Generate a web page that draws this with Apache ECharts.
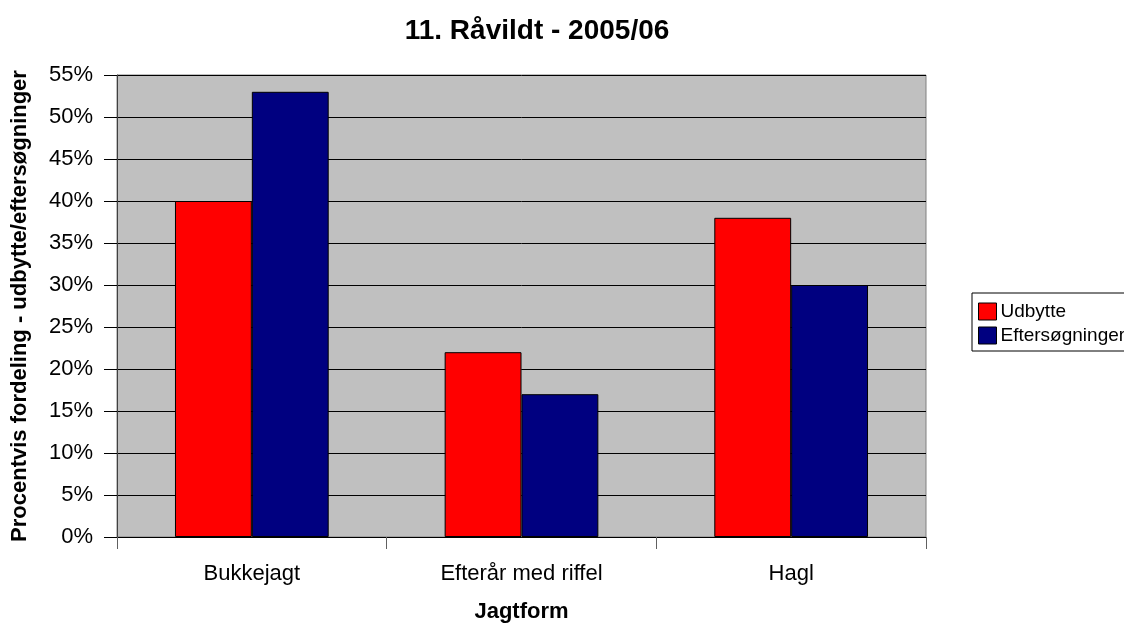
<!DOCTYPE html>
<html><head><meta charset="utf-8">
<script src="https://cdn.jsdelivr.net/npm/echarts@6/dist/echarts.min.js"></script>
<style>html,body{margin:0;padding:0;background:#fff;overflow:hidden}#c{width:1124px;height:628px}</style>
</head><body><div id="c"></div>
<script>
const categories = ['Bukkejagt', 'Efterår med riffel', 'Hagl'];
const udbytte = [40, 22, 38];
const eftersogninger = [53, 17, 30];
const yTicks = [0, 5, 10, 15, 20, 25, 30, 35, 40, 45, 50, 55];

const chart = echarts.init(document.getElementById('c'), null, {renderer: 'canvas'});
const font = 'Arial, "Liberation Sans", sans-serif';
chart.setOption({
  animation: false,
  title: {
    text: '11. Råvildt - 2005/06', left: 532, top: 12, textAlign: 'center',
    textStyle: {fontFamily: font, fontSize: 28, fontWeight: 'bold', color: '#000'}
  },
  legend: {
    orient: 'vertical', left: 972, top: 293,
    padding: [9, 60, 6, 6],
    borderColor: '#000', borderWidth: 1, itemGap: 5,
    itemWidth: 18, itemHeight: 17, icon: 'rect',
    textStyle: {fontFamily: font, fontSize: 19, color: '#000', padding: [0, 0, 0, -1]},
    data: [
      {name: 'Udbytte', itemStyle: {borderColor: '#000', borderWidth: 1}},
      {name: 'Eftersøgninger', itemStyle: {borderColor: '#000', borderWidth: 1}}
    ]
  },
  grid: {left: 117, right: 198, top: 75, bottom: 91, show: true, backgroundColor: '#C0C0C0', borderColor: '#808080', borderWidth: 1},
  xAxis: {
    type: 'category', data: categories,
    name: 'Jagtform', nameLocation: 'middle', nameGap: 64,
    nameTextStyle: {fontFamily: font, fontSize: 22, fontWeight: 'bold', color: '#000'},
    axisLine: {lineStyle: {color: '#000'}},
    axisTick: {show: true, length: 12, lineStyle: {color: '#606060'}},
    axisLabel: {fontFamily: font, fontSize: 22, color: '#000', margin: 26}
  },
  yAxis: {
    type: 'value', min: 0, max: 55, interval: 5,
    name: 'Procentvis fordeling - udbytte/eftersøgninger', nameLocation: 'middle', nameGap: 86,
    nameTextStyle: {fontFamily: font, fontSize: 22, fontWeight: 'bold', color: '#000'},
    axisLine: {show: true, lineStyle: {color: '#404040'}},
    axisTick: {show: true, length: 13, lineStyle: {color: '#000'}},
    axisLabel: {fontFamily: font, fontSize: 22, color: '#000', margin: 24,
      formatter: v => yTicks.includes(v) ? v + '%' : ''},
    splitLine: {show: true, lineStyle: {color: '#000', width: 1}}
  },
  series: [
    {name: 'Udbytte', type: 'bar', data: udbytte, barGap: '0%', barCategoryGap: '43%',
     itemStyle: {color: '#FF0000', borderColor: '#000', borderWidth: 1}},
    {name: 'Eftersøgninger', type: 'bar', data: eftersogninger,
     itemStyle: {color: '#000080', borderColor: '#000', borderWidth: 1}}
  ]
});
</script></body></html>
